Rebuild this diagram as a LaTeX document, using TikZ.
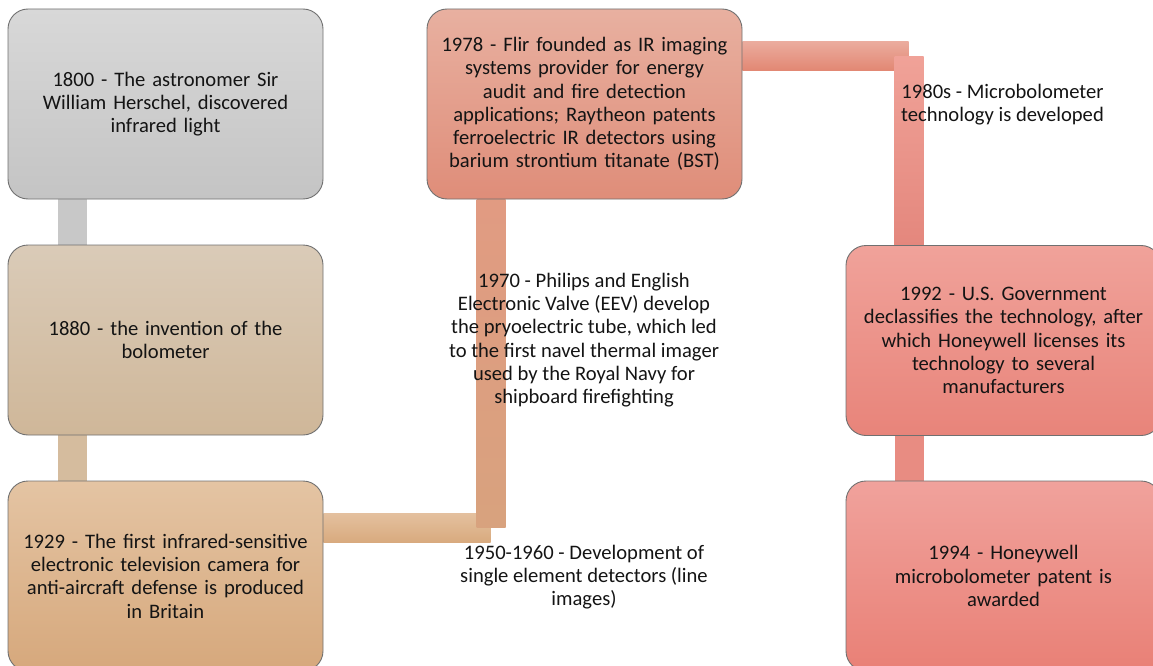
\documentclass[tikz,border=0pt]{standalone}
\usepackage{fontspec}
\setmainfont{Carlito}
\usetikzlibrary{backgrounds,calc}
\definecolor{boxline}{RGB}{112,112,112}
\definecolor{aT}{RGB}{216,216,216}\definecolor{aB}{RGB}{196,196,196}
\definecolor{bT}{RGB}{218,203,184}\definecolor{bB}{RGB}{207,183,153}
\definecolor{cT}{RGB}{228,196,163}\definecolor{cB}{RGB}{214,168,124}
\definecolor{dT}{RGB}{232,176,160}\definecolor{dB}{RGB}{223,141,121}
\definecolor{eT}{RGB}{240,162,154}\definecolor{eB}{RGB}{232,132,122}
\definecolor{fT}{RGB}{240,162,156}\definecolor{fB}{RGB}{233,128,118}
\definecolor{txt}{RGB}{20,20,20}
\begin{document}
\begin{tikzpicture}[x=1pt,y=-1pt,
  box/.style={draw=boxline, line width=0.9pt, rounded corners=20pt,
    minimum width=315pt, minimum height=190pt, text width=310pt,
    align=center, inner sep=0pt, text=txt,
    font=\fontsize{20.6}{23.3}\selectfont},
  lab/.style={align=center, inner sep=0pt, text=txt,
    font=\fontsize{20.6}{23.3}\selectfont}]
\useasboundingbox (0,0) rectangle (1153,666);

\node[box, top color=aT, bottom color=aB] (b1) at (165.5,104)
  {1800 - The astronomer Sir\\William Herschel, discovered\\infrared light};
\node[box, top color=bT, bottom color=bB] (b2) at (165.5,340)
  {1880 - the invention of the\\bolometer};
\node[box, top color=cT, bottom color=cB] (b3) at (165.5,576)
  {1929 - The first infrared-sensitive\\electronic television camera for\\anti-aircraft defense is produced\\in Britain};
\node[box, top color=dT, bottom color=dB] (b4) at (584.5,104)
  {1978 - Flir founded as IR imaging\\systems provider for energy\\audit and fire detection\\applications; Raytheon patents\\ferroelectric IR detectors using\\barium strontium titanate (BST)};
\node[box, top color=eT, bottom color=eB] (b5) at (1003.5,340.5)
  {1992 - U.S. Government\\declassifies the technology, after\\which Honeywell licenses its\\technology to several\\manufacturers};
\node[box, top color=fT, bottom color=fB] (b6) at (1003.5,576)
  {1994 - Honeywell\\microbolometer patent is\\awarded};

\node[lab] (l1) at (584,577)
  {1950-1960 - Development of\\single element detectors (line\\images)};
\node[lab] (l2) at (584,340)
  {1970 - Philips and English\\Electronic Valve (EEV) develop\\the pryoelectric tube, which led\\to the first navel thermal imager\\used by the Royal Navy for\\shipboard firefighting};
\node[lab] (l3) at (1002.5,104.5)
  {1980s - Microbolometer\\technology is developed};

\begin{scope}[on background layer]
  % b1 -> b2
  \fill[fill={rgb,255:red,200;green,200;blue,200}]
    ([xshift=50pt]b1.south west) rectangle ([xshift=79pt]b2.north west);
  % b2 -> b3
  \fill[fill={rgb,255:red,213;green,188;blue,158}]
    ([xshift=50pt]b2.south west) rectangle ([xshift=79pt]b3.north west);
  % b3 -> b4 (elbow)
  \coordinate (h3a) at ($(b3.north east)+(0,33)$);
  \coordinate (h3b) at ($(b4.west |- b3.north)+(64,62)$);
  \shade[top color={rgb,255:red,228;green,192;blue,158},
         bottom color={rgb,255:red,216;green,170;blue,126}] (h3a) rectangle (h3b);
  \shade[top color={rgb,255:red,225;green,155;blue,130},
         bottom color={rgb,255:red,216;green,162;blue,126}]
    ([xshift=50pt]b4.south west) rectangle ($(b4.west |- b3.north)+(79,47)$);
  % b4 -> b5 (elbow)
  \coordinate (h4a) at ($(b4.north east)+(0,33)$);
  \coordinate (h4b) at ($(b5.west |- b4.north)+(63,62)$);
  \shade[top color={rgb,255:red,235;green,172;blue,158},
         bottom color={rgb,255:red,226;green,135;blue,115}] (h4a) rectangle (h4b);
  \shade[top color={rgb,255:red,240;green,162;blue,152},
         bottom color={rgb,255:red,228;green,135;blue,125}]
    ($(b5.west |- b4.north)+(49,48)$) rectangle ([xshift=78pt]b5.north west);
  % b5 -> b6
  \fill[fill={rgb,255:red,232;green,140;blue,130}]
    ([xshift=49pt]b5.south west) rectangle ([xshift=78pt]b6.north west);
\end{scope}
\end{tikzpicture}
\end{document}
